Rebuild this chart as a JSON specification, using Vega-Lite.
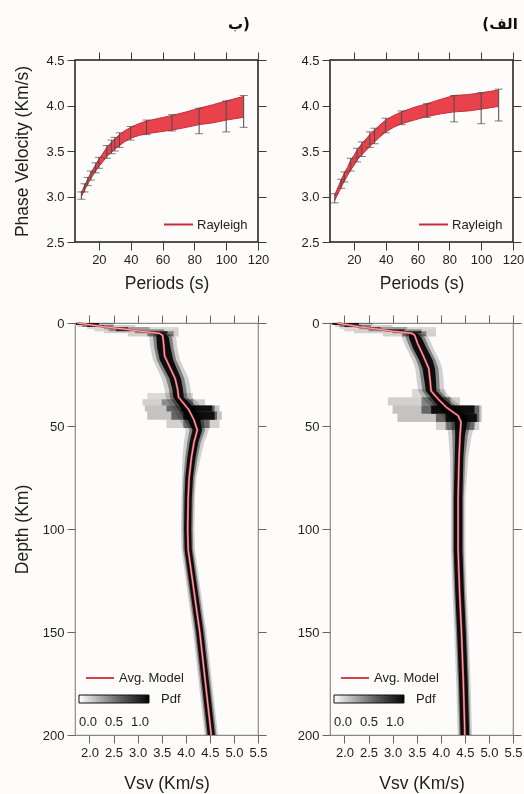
{
"$schema": "https://vega.github.io/schema/vega-lite/v6.json",
"background": "#fdfcfa",
"padding": {"left": 12, "top": 15, "right": 5, "bottom": 5},
"config": {
 "font": "Liberation Sans",
 "axis": {"domain": false, "grid": false, "tickSize": 8, "tickColor": "#3a3a3a", "tickWidth": 1, "labelFont": "Liberation Sans", "labelFontSize": 13, "labelColor": "#1e1e1e", "labelPadding": 3, "titleFont": "Liberation Sans", "titleFontSize": 17.5, "titleFontWeight": "normal", "titleColor": "#1e1e1e", "labelFlush": false, "labelOverlap": false},
 "legend": {"labelFont": "Liberation Sans", "labelFontSize": 13, "labelColor": "#1e1e1e", "titleFont": "Liberation Sans", "titleFontSize": 13, "titleFontWeight": "normal", "titleColor": "#1e1e1e"}
},
"datasets": {
 "bandB": [
  {"T":9,"lo":3.00,"hi":3.04},{"T":11,"lo":3.07,"hi":3.12},{"T":13,"lo":3.14,"hi":3.19},{"T":15,"lo":3.20,"hi":3.26},
  {"T":18,"lo":3.28,"hi":3.35},{"T":20,"lo":3.33,"hi":3.41},{"T":22,"lo":3.37,"hi":3.46},{"T":25,"lo":3.44,"hi":3.54},
  {"T":28,"lo":3.49,"hi":3.60},{"T":30,"lo":3.52,"hi":3.63},{"T":33,"lo":3.56,"hi":3.68},{"T":36,"lo":3.60,"hi":3.72},
  {"T":40,"lo":3.64,"hi":3.76},{"T":45,"lo":3.67,"hi":3.80},{"T":50,"lo":3.69,"hi":3.83},{"T":58,"lo":3.71,"hi":3.86},
  {"T":66,"lo":3.73,"hi":3.89},{"T":75,"lo":3.76,"hi":3.93},{"T":83,"lo":3.79,"hi":3.97},{"T":92,"lo":3.81,"hi":4.01},
  {"T":100,"lo":3.84,"hi":4.05},{"T":111,"lo":3.87,"hi":4.10}
 ],
 "errB": [
  {"T":9,"elo":2.97,"ehi":3.05},{"T":11,"elo":3.05,"ehi":3.14},{"T":13,"elo":3.12,"ehi":3.21},{"T":15,"elo":3.18,"ehi":3.28},
  {"T":18,"elo":3.26,"ehi":3.37},{"T":20,"elo":3.31,"ehi":3.43},{"T":25,"elo":3.42,"ehi":3.56},{"T":28,"elo":3.47,"ehi":3.62},
  {"T":30,"elo":3.50,"ehi":3.65},{"T":33,"elo":3.54,"ehi":3.70},{"T":40,"elo":3.62,"ehi":3.77},{"T":50,"elo":3.68,"ehi":3.84},
  {"T":66,"elo":3.72,"ehi":3.90},{"T":83,"elo":3.69,"ehi":3.97},{"T":100,"elo":3.71,"ehi":4.05},{"T":111,"elo":3.76,"ehi":4.11}
 ],
 "bandA": [
  {"T":8,"lo":2.96,"hi":3.02},{"T":10,"lo":3.03,"hi":3.10},{"T":12,"lo":3.10,"hi":3.18},{"T":14,"lo":3.17,"hi":3.26},
  {"T":16,"lo":3.23,"hi":3.32},{"T":18,"lo":3.29,"hi":3.40},{"T":20,"lo":3.34,"hi":3.45},{"T":22,"lo":3.40,"hi":3.51},
  {"T":25,"lo":3.46,"hi":3.58},{"T":28,"lo":3.51,"hi":3.64},{"T":30,"lo":3.55,"hi":3.68},{"T":33,"lo":3.60,"hi":3.73},
  {"T":36,"lo":3.65,"hi":3.78},{"T":40,"lo":3.71,"hi":3.84},{"T":45,"lo":3.76,"hi":3.89},{"T":50,"lo":3.80,"hi":3.93},
  {"T":58,"lo":3.84,"hi":3.98},{"T":66,"lo":3.88,"hi":4.02},{"T":75,"lo":3.91,"hi":4.07},{"T":83,"lo":3.93,"hi":4.11},
  {"T":92,"lo":3.94,"hi":4.12},{"T":100,"lo":3.96,"hi":4.14},{"T":111,"lo":3.99,"hi":4.17}
 ],
 "errA": [
  {"T":8,"elo":2.93,"ehi":3.03},{"T":12,"elo":3.09,"ehi":3.19},{"T":14,"elo":3.16,"ehi":3.27},{"T":18,"elo":3.28,"ehi":3.42},
  {"T":22,"elo":3.38,"ehi":3.53},{"T":25,"elo":3.44,"ehi":3.60},{"T":30,"elo":3.54,"ehi":3.71},{"T":33,"elo":3.58,"ehi":3.75},
  {"T":40,"elo":3.70,"ehi":3.86},{"T":50,"elo":3.79,"ehi":3.94},{"T":66,"elo":3.87,"ehi":4.02},{"T":83,"elo":3.82,"ehi":4.11},
  {"T":100,"elo":3.80,"ehi":4.14},{"T":111,"elo":3.83,"ehi":4.18}
 ],
 "modelB": [
  {"d":0,"v":1.75},{"d":1,"v":2.05},{"d":2,"v":2.35},{"d":3,"v":2.75},{"d":4,"v":3.05},{"d":5,"v":3.45},{"d":6,"v":3.52},
  {"d":10,"v":3.54},{"d":16,"v":3.56},{"d":21,"v":3.66},{"d":27,"v":3.78},{"d":32,"v":3.83},{"d":36,"v":3.85},{"d":38,"v":3.92},
  {"d":42,"v":4.06},{"d":47,"v":4.17},{"d":52,"v":4.24},{"d":58,"v":4.17},{"d":65,"v":4.12},{"d":75,"v":4.07},{"d":85,"v":4.05},
  {"d":100,"v":4.04},{"d":110,"v":4.05},{"d":130,"v":4.17},{"d":150,"v":4.29},{"d":175,"v":4.41},{"d":200,"v":4.53}
 ],
 "modelA": [
  {"d":0,"v":1.85},{"d":1,"v":2.1},{"d":2,"v":2.35},{"d":3,"v":2.7},{"d":4,"v":3.0},{"d":5,"v":3.4},{"d":6,"v":3.46},
  {"d":10,"v":3.52},{"d":15,"v":3.62},{"d":22,"v":3.75},{"d":28,"v":3.78},{"d":33,"v":3.80},{"d":37,"v":3.95},{"d":41,"v":4.12},
  {"d":45,"v":4.36},{"d":48,"v":4.42},{"d":55,"v":4.40},{"d":65,"v":4.38},{"d":85,"v":4.36},{"d":110,"v":4.36},{"d":130,"v":4.39},
  {"d":150,"v":4.43},{"d":175,"v":4.47},{"d":200,"v":4.5}
 ],
 "scatB": [
  {"d1":0,"d2":1,"lo":1.72,"hi":2.5,"p":0.2},{"d1":0,"d2":1,"lo":1.72,"hi":2.2,"p":0.8},
  {"d1":1,"d2":2,"lo":1.75,"hi":2.95,"p":0.15},{"d1":1,"d2":2,"lo":1.85,"hi":2.5,"p":0.35},{"d1":1,"d2":2,"lo":1.95,"hi":2.3,"p":0.7},
  {"d1":2,"d2":3,"lo":1.95,"hi":3.85,"p":0.12},{"d1":2,"d2":3,"lo":2.3,"hi":3.25,"p":0.25},{"d1":2,"d2":3,"lo":2.45,"hi":2.8,"p":0.6},
  {"d1":3,"d2":4,"lo":2.1,"hi":3.85,"p":0.15},{"d1":3,"d2":4,"lo":2.4,"hi":3.55,"p":0.3},{"d1":3,"d2":4,"lo":2.55,"hi":2.85,"p":0.7},
  {"d1":4,"d2":5,"lo":2.3,"hi":3.85,"p":0.15},{"d1":4,"d2":5,"lo":2.95,"hi":3.75,"p":0.35},{"d1":4,"d2":5,"lo":3.25,"hi":3.62,"p":0.8},
  {"d1":5,"d2":6.5,"lo":2.8,"hi":3.85,"p":0.15},{"d1":5,"d2":6.5,"lo":3.2,"hi":3.75,"p":0.4},
  {"d1":34,"d2":37,"lo":3.2,"hi":4.15,"p":0.12},
  {"d1":37,"d2":40,"lo":3.1,"hi":4.4,"p":0.15},{"d1":37,"d2":40,"lo":3.5,"hi":4.15,"p":0.3},
  {"d1":40,"d2":43,"lo":3.15,"hi":4.7,"p":0.2},{"d1":40,"d2":43,"lo":3.6,"hi":4.6,"p":0.45},{"d1":40,"d2":43,"lo":3.9,"hi":4.55,"p":0.85},
  {"d1":43,"d2":47,"lo":3.2,"hi":4.75,"p":0.2},{"d1":43,"d2":47,"lo":3.7,"hi":4.65,"p":0.45},{"d1":43,"d2":47,"lo":3.95,"hi":4.6,"p":0.85},
  {"d1":47,"d2":51,"lo":3.6,"hi":4.7,"p":0.15},{"d1":47,"d2":51,"lo":3.95,"hi":4.5,"p":0.35}
 ],
 "scatA": [
  {"d1":0,"d2":1,"lo":1.72,"hi":2.6,"p":0.2},{"d1":0,"d2":1,"lo":1.75,"hi":2.3,"p":0.8},
  {"d1":1,"d2":2,"lo":1.8,"hi":3.0,"p":0.15},{"d1":1,"d2":2,"lo":1.9,"hi":2.55,"p":0.35},{"d1":1,"d2":2,"lo":2.0,"hi":2.35,"p":0.7},
  {"d1":2,"d2":3,"lo":1.9,"hi":3.9,"p":0.12},{"d1":2,"d2":3,"lo":2.3,"hi":3.3,"p":0.25},{"d1":2,"d2":3,"lo":2.45,"hi":2.75,"p":0.6},
  {"d1":3,"d2":4,"lo":2.0,"hi":3.9,"p":0.15},{"d1":3,"d2":4,"lo":2.5,"hi":3.6,"p":0.3},{"d1":3,"d2":4,"lo":2.85,"hi":3.25,"p":0.7},
  {"d1":4,"d2":5,"lo":2.2,"hi":3.9,"p":0.15},{"d1":4,"d2":5,"lo":3.0,"hi":3.7,"p":0.35},{"d1":4,"d2":5,"lo":3.25,"hi":3.6,"p":0.8},
  {"d1":5,"d2":6.5,"lo":2.8,"hi":3.9,"p":0.15},{"d1":5,"d2":6.5,"lo":3.2,"hi":3.7,"p":0.4},
  {"d1":32,"d2":36,"lo":3.4,"hi":4.1,"p":0.12},
  {"d1":36,"d2":40,"lo":2.9,"hi":4.4,"p":0.15},{"d1":36,"d2":40,"lo":3.6,"hi":4.2,"p":0.35},
  {"d1":40,"d2":44,"lo":3.0,"hi":4.85,"p":0.2},{"d1":40,"d2":44,"lo":3.6,"hi":4.8,"p":0.45},{"d1":40,"d2":44,"lo":3.8,"hi":4.7,"p":0.85},
  {"d1":44,"d2":48,"lo":3.1,"hi":4.85,"p":0.2},{"d1":44,"d2":48,"lo":3.9,"hi":4.8,"p":0.45},{"d1":44,"d2":48,"lo":4.1,"hi":4.75,"p":0.85},
  {"d1":48,"d2":52,"lo":3.9,"hi":4.8,"p":0.15},{"d1":48,"d2":52,"lo":4.1,"hi":4.7,"p":0.35}
 ],
 "coreB": [
  {"d":5,"lo":3.28,"hi":3.68,"p":0.15},{"d":7,"lo":3.24,"hi":3.80,"p":0.15},{"d":12,"lo":3.265,"hi":3.825,"p":0.15},{"d":18,"lo":3.32,"hi":3.88,"p":0.15},
  {"d":22,"lo":3.40,"hi":3.96,"p":0.15},{"d":27,"lo":3.50,"hi":4.06,"p":0.15},{"d":32,"lo":3.56,"hi":4.10,"p":0.15},{"d":36,"lo":3.58,"hi":4.12,"p":0.15},
  {"d":38,"lo":3.62,"hi":4.22,"p":0.15},{"d":42,"lo":3.74,"hi":4.38,"p":0.15},{"d":47,"lo":3.87,"hi":4.47,"p":0.15},{"d":52,"lo":4.00,"hi":4.48,"p":0.15},
  {"d":58,"lo":3.96,"hi":4.38,"p":0.15},{"d":65,"lo":3.93,"hi":4.31,"p":0.15},{"d":75,"lo":3.92,"hi":4.22,"p":0.15},{"d":85,"lo":3.91,"hi":4.19,"p":0.15},
  {"d":100,"lo":3.90,"hi":4.18,"p":0.15},{"d":110,"lo":3.91,"hi":4.19,"p":0.15},{"d":130,"lo":4.03,"hi":4.31,"p":0.15},{"d":150,"lo":4.15,"hi":4.43,"p":0.15},
  {"d":175,"lo":4.27,"hi":4.55,"p":0.15},{"d":200,"lo":4.39,"hi":4.67,"p":0.15},
  {"d":5,"lo":3.35,"hi":3.61,"p":0.35},{"d":7,"lo":3.32,"hi":3.72,"p":0.35},{"d":12,"lo":3.345,"hi":3.745,"p":0.35},{"d":18,"lo":3.40,"hi":3.80,"p":0.35},
  {"d":22,"lo":3.48,"hi":3.88,"p":0.35},{"d":27,"lo":3.59,"hi":3.97,"p":0.35},{"d":32,"lo":3.65,"hi":4.01,"p":0.35},{"d":36,"lo":3.67,"hi":4.03,"p":0.35},
  {"d":38,"lo":3.72,"hi":4.12,"p":0.35},{"d":42,"lo":3.84,"hi":4.28,"p":0.35},{"d":47,"lo":3.97,"hi":4.37,"p":0.35},{"d":52,"lo":4.08,"hi":4.40,"p":0.35},
  {"d":58,"lo":4.03,"hi":4.31,"p":0.35},{"d":65,"lo":3.99,"hi":4.25,"p":0.35},{"d":75,"lo":3.955,"hi":4.185,"p":0.35},{"d":85,"lo":3.94,"hi":4.16,"p":0.35},
  {"d":100,"lo":3.935,"hi":4.145,"p":0.35},{"d":110,"lo":3.945,"hi":4.155,"p":0.35},{"d":130,"lo":4.065,"hi":4.275,"p":0.35},{"d":150,"lo":4.185,"hi":4.395,"p":0.35},
  {"d":175,"lo":4.305,"hi":4.515,"p":0.35},{"d":200,"lo":4.425,"hi":4.635,"p":0.35},
  {"d":5,"lo":3.40,"hi":3.56,"p":0.92},{"d":7,"lo":3.39,"hi":3.65,"p":0.92},{"d":12,"lo":3.405,"hi":3.685,"p":0.92},{"d":18,"lo":3.46,"hi":3.74,"p":0.92},
  {"d":22,"lo":3.55,"hi":3.81,"p":0.92},{"d":27,"lo":3.66,"hi":3.90,"p":0.92},{"d":32,"lo":3.72,"hi":3.94,"p":0.92},{"d":36,"lo":3.74,"hi":3.96,"p":0.92},
  {"d":38,"lo":3.80,"hi":4.04,"p":0.92},{"d":42,"lo":3.92,"hi":4.20,"p":0.92},{"d":47,"lo":4.04,"hi":4.30,"p":0.92},{"d":52,"lo":4.14,"hi":4.34,"p":0.92},
  {"d":58,"lo":4.08,"hi":4.26,"p":0.92},{"d":65,"lo":4.035,"hi":4.205,"p":0.92},{"d":75,"lo":3.99,"hi":4.15,"p":0.92},{"d":85,"lo":3.975,"hi":4.125,"p":0.92},
  {"d":100,"lo":3.965,"hi":4.115,"p":0.92},{"d":110,"lo":3.975,"hi":4.125,"p":0.92},{"d":130,"lo":4.095,"hi":4.245,"p":0.92},{"d":150,"lo":4.215,"hi":4.365,"p":0.92},
  {"d":175,"lo":4.335,"hi":4.485,"p":0.92},{"d":200,"lo":4.455,"hi":4.605,"p":0.92}
 ],
 "coreA": [
  {"d":5,"lo":3.22,"hi":3.62,"p":0.15},{"d":7,"lo":3.19,"hi":3.75,"p":0.15},{"d":12,"lo":3.28,"hi":3.84,"p":0.15},{"d":18,"lo":3.41,"hi":3.97,"p":0.15},
  {"d":22,"lo":3.47,"hi":4.03,"p":0.15},{"d":28,"lo":3.50,"hi":4.06,"p":0.15},{"d":33,"lo":3.53,"hi":4.07,"p":0.15},{"d":37,"lo":3.65,"hi":4.25,"p":0.15},
  {"d":41,"lo":3.79,"hi":4.45,"p":0.15},{"d":45,"lo":4.03,"hi":4.69,"p":0.15},{"d":48,"lo":4.12,"hi":4.72,"p":0.15},{"d":55,"lo":4.16,"hi":4.64,"p":0.15},
  {"d":65,"lo":4.19,"hi":4.57,"p":0.15},{"d":85,"lo":4.21,"hi":4.51,"p":0.15},{"d":110,"lo":4.21,"hi":4.51,"p":0.15},{"d":130,"lo":4.24,"hi":4.54,"p":0.15},
  {"d":150,"lo":4.28,"hi":4.58,"p":0.15},{"d":175,"lo":4.32,"hi":4.62,"p":0.15},{"d":200,"lo":4.35,"hi":4.65,"p":0.15},
  {"d":5,"lo":3.29,"hi":3.55,"p":0.35},{"d":7,"lo":3.27,"hi":3.67,"p":0.35},{"d":12,"lo":3.36,"hi":3.76,"p":0.35},{"d":18,"lo":3.49,"hi":3.89,"p":0.35},
  {"d":22,"lo":3.55,"hi":3.95,"p":0.35},{"d":28,"lo":3.59,"hi":3.97,"p":0.35},{"d":33,"lo":3.62,"hi":3.98,"p":0.35},{"d":37,"lo":3.75,"hi":4.15,"p":0.35},
  {"d":41,"lo":3.89,"hi":4.35,"p":0.35},{"d":45,"lo":4.13,"hi":4.59,"p":0.35},{"d":48,"lo":4.22,"hi":4.62,"p":0.35},{"d":55,"lo":4.24,"hi":4.56,"p":0.35},
  {"d":65,"lo":4.25,"hi":4.51,"p":0.35},{"d":85,"lo":4.245,"hi":4.475,"p":0.35},{"d":110,"lo":4.245,"hi":4.475,"p":0.35},{"d":130,"lo":4.275,"hi":4.505,"p":0.35},
  {"d":150,"lo":4.315,"hi":4.545,"p":0.35},{"d":175,"lo":4.355,"hi":4.585,"p":0.35},{"d":200,"lo":4.385,"hi":4.615,"p":0.35},
  {"d":5,"lo":3.34,"hi":3.50,"p":0.92},{"d":7,"lo":3.34,"hi":3.60,"p":0.92},{"d":12,"lo":3.42,"hi":3.70,"p":0.92},{"d":18,"lo":3.55,"hi":3.83,"p":0.92},
  {"d":22,"lo":3.62,"hi":3.88,"p":0.92},{"d":28,"lo":3.66,"hi":3.90,"p":0.92},{"d":33,"lo":3.69,"hi":3.91,"p":0.92},{"d":37,"lo":3.83,"hi":4.07,"p":0.92},
  {"d":41,"lo":3.97,"hi":4.27,"p":0.92},{"d":45,"lo":4.21,"hi":4.51,"p":0.92},{"d":48,"lo":4.29,"hi":4.55,"p":0.92},{"d":55,"lo":4.30,"hi":4.50,"p":0.92},
  {"d":65,"lo":4.29,"hi":4.47,"p":0.92},{"d":85,"lo":4.27,"hi":4.45,"p":0.92},{"d":110,"lo":4.27,"hi":4.45,"p":0.92},{"d":130,"lo":4.30,"hi":4.48,"p":0.92},
  {"d":150,"lo":4.34,"hi":4.52,"p":0.92},{"d":175,"lo":4.38,"hi":4.56,"p":0.92},{"d":200,"lo":4.41,"hi":4.59,"p":0.92}
 ]
},
"columns": 2,
"align": "each",
"bounds": "flush",
"spacing": {"row": 81, "column": 72},
"resolve": {"scale": {"color": "independent", "stroke": "independent"}, "legend": {"color": "independent", "stroke": "independent"}},
"concat": [
 {
  "width": 183, "height": 182,
  "view": {"stroke": "#1a1a1a", "strokeWidth": 1.5},
  "title": {"text": "ب)", "anchor": "end", "font": "DejaVu Sans", "fontSize": 15, "fontWeight": "bold", "color": "#111", "dx": -19, "offset": 20},
  "resolve": {"axis": {"x": "independent", "y": "independent"}},
  "layer": [
   {"data": {"name": "bandB"}, "mark": {"type": "area", "color": "#e8434d", "opacity": 1},
    "encoding": {
     "x": {"field": "T", "type": "quantitative", "scale": {"domain": [5, 120], "nice": false, "zero": false}, "axis": {"orient": "bottom", "values": [20, 40, 60, 80, 100, 120], "title": "Periods (s)", "titlePadding": 8}},
     "y": {"field": "lo", "type": "quantitative", "scale": {"domain": [2.5, 4.5], "nice": false, "zero": false}, "axis": {"orient": "left", "values": [2.5, 3, 3.5, 4, 4.5], "format": ".1f", "title": "Phase Velocity (Km/s)", "minExtent": 34, "maxExtent": 34, "titlePadding": 10}},
     "y2": {"field": "hi"}}},
   {"data": {"name": "bandB"}, "mark": {"type": "line", "strokeWidth": 1},
    "encoding": {
     "x": {"field": "T", "type": "quantitative", "axis": null},
     "y": {"field": "hi", "type": "quantitative", "axis": null},
     "stroke": {"datum": "Rayleigh", "scale": {"range": ["#c82c37"]}, "legend": {"title": null, "orient": "bottom-right", "offset": 10, "padding": 0, "symbolType": "stroke", "symbolSize": 841, "symbolStrokeWidth": 2, "labelOffset": 3}}}},
   {"data": {"name": "bandB"}, "mark": {"type": "line", "strokeWidth": 1},
    "encoding": {
     "x": {"field": "T", "type": "quantitative", "axis": null},
     "y": {"field": "lo", "type": "quantitative", "axis": null},
     "stroke": {"datum": "Rayleigh", "scale": {"range": ["#c82c37"]}, "legend": {"title": null, "orient": "bottom-right", "offset": 10, "padding": 0, "symbolType": "stroke", "symbolSize": 841, "symbolStrokeWidth": 2, "labelOffset": 3}}}},
   {"data": {"name": "errB"}, "mark": {"type": "rule", "color": "#4a4a4a", "strokeWidth": 1},
    "encoding": {"x": {"field": "T", "type": "quantitative", "axis": null}, "y": {"field": "elo", "type": "quantitative", "axis": null}, "y2": {"field": "ehi"}}},
   {"data": {"name": "errB"}, "mark": {"type": "tick", "orient": "horizontal", "size": 8, "thickness": 1, "color": "#4a4a4a"},
    "encoding": {"x": {"field": "T", "type": "quantitative", "axis": null}, "y": {"field": "elo", "type": "quantitative", "axis": null}}},
   {"data": {"name": "errB"}, "mark": {"type": "tick", "orient": "horizontal", "size": 8, "thickness": 1, "color": "#4a4a4a"},
    "encoding": {"x": {"field": "T", "type": "quantitative", "axis": null}, "y": {"field": "ehi", "type": "quantitative", "axis": null}}},
   {"data": {"name": "errB"}, "mark": {"type": "point", "opacity": 0},
    "encoding": {
     "x": {"field": "T", "type": "quantitative", "axis": {"orient": "top", "values": [20, 40, 60, 80, 100, 120], "labels": false, "title": null}},
     "y": {"field": "elo", "type": "quantitative", "axis": {"orient": "right", "values": [2.5, 3, 3.5, 4, 4.5], "labels": false, "title": null, "minExtent": 0}}}}
  ]
 },
 {
  "width": 183, "height": 182,
  "view": {"stroke": "#1a1a1a", "strokeWidth": 1.5},
  "title": {"text": "(الف", "anchor": "end", "font": "DejaVu Sans", "fontSize": 15, "fontWeight": "bold", "color": "#111", "dx": -6, "offset": 20},
  "resolve": {"axis": {"x": "independent", "y": "independent"}},
  "layer": [
   {"data": {"name": "bandA"}, "mark": {"type": "area", "color": "#e8434d", "opacity": 1},
    "encoding": {
     "x": {"field": "T", "type": "quantitative", "scale": {"domain": [5, 120], "nice": false, "zero": false}, "axis": {"orient": "bottom", "values": [20, 40, 60, 80, 100, 120], "title": "Periods (s)", "titlePadding": 8}},
     "y": {"field": "lo", "type": "quantitative", "scale": {"domain": [2.5, 4.5], "nice": false, "zero": false}, "axis": {"orient": "left", "values": [2.5, 3, 3.5, 4, 4.5], "format": ".1f", "title": null, "minExtent": 34, "maxExtent": 34}},
     "y2": {"field": "hi"}}},
   {"data": {"name": "bandA"}, "mark": {"type": "line", "strokeWidth": 1},
    "encoding": {
     "x": {"field": "T", "type": "quantitative", "axis": null},
     "y": {"field": "hi", "type": "quantitative", "axis": null},
     "stroke": {"datum": "Rayleigh", "scale": {"range": ["#c82c37"]}, "legend": {"title": null, "orient": "bottom-right", "offset": 10, "padding": 0, "symbolType": "stroke", "symbolSize": 841, "symbolStrokeWidth": 2, "labelOffset": 3}}}},
   {"data": {"name": "bandA"}, "mark": {"type": "line", "strokeWidth": 1},
    "encoding": {
     "x": {"field": "T", "type": "quantitative", "axis": null},
     "y": {"field": "lo", "type": "quantitative", "axis": null},
     "stroke": {"datum": "Rayleigh", "scale": {"range": ["#c82c37"]}, "legend": {"title": null, "orient": "bottom-right", "offset": 10, "padding": 0, "symbolType": "stroke", "symbolSize": 841, "symbolStrokeWidth": 2, "labelOffset": 3}}}},
   {"data": {"name": "errA"}, "mark": {"type": "rule", "color": "#4a4a4a", "strokeWidth": 1},
    "encoding": {"x": {"field": "T", "type": "quantitative", "axis": null}, "y": {"field": "elo", "type": "quantitative", "axis": null}, "y2": {"field": "ehi"}}},
   {"data": {"name": "errA"}, "mark": {"type": "tick", "orient": "horizontal", "size": 8, "thickness": 1, "color": "#4a4a4a"},
    "encoding": {"x": {"field": "T", "type": "quantitative", "axis": null}, "y": {"field": "elo", "type": "quantitative", "axis": null}}},
   {"data": {"name": "errA"}, "mark": {"type": "tick", "orient": "horizontal", "size": 8, "thickness": 1, "color": "#4a4a4a"},
    "encoding": {"x": {"field": "T", "type": "quantitative", "axis": null}, "y": {"field": "ehi", "type": "quantitative", "axis": null}}},
   {"data": {"name": "errA"}, "mark": {"type": "point", "opacity": 0},
    "encoding": {
     "x": {"field": "T", "type": "quantitative", "axis": {"orient": "top", "values": [20, 40, 60, 80, 100, 120], "labels": false, "title": null}},
     "y": {"field": "elo", "type": "quantitative", "axis": {"orient": "right", "values": [2.5, 3, 3.5, 4, 4.5], "labels": false, "title": null, "minExtent": 0}}}}
  ]
 },
 {
  "width": 183, "height": 412,
  "view": {"stroke": "#8a8a8a", "strokeWidth": 1.2},
  "resolve": {"axis": {"x": "independent", "y": "independent"}},
  "layer": [
   {"data": {"name": "scatB"}, "mark": {"type": "rect", "blend": "multiply"},
    "encoding": {
     "x": {"field": "lo", "type": "quantitative", "scale": {"domain": [1.7, 5.5], "nice": false, "zero": false}, "axis": {"orient": "bottom", "values": [2, 2.5, 3, 3.5, 4, 4.5, 5, 5.5], "format": ".1f", "title": "Vsv (Km/s)", "titlePadding": 15, "tickColor": "#666"}},
     "x2": {"field": "hi"},
     "y": {"field": "d1", "type": "quantitative", "scale": {"domain": [0, 200], "reverse": true, "nice": false, "zero": false}, "axis": {"orient": "left", "values": [0, 50, 100, 150, 200], "title": "Depth (Km)", "minExtent": 34, "maxExtent": 34, "titlePadding": 10, "tickColor": "#666"}},
     "y2": {"field": "d2"},
     "color": {"field": "p", "type": "quantitative", "scale": {"domain": [0, 1], "range": ["#ffffff", "#000000"]}, "legend": {"title": "Pdf", "orient": "none", "legendX": 4, "legendY": 372, "direction": "horizontal", "titleOrient": "right", "gradientLength": 70, "gradientThickness": 8, "values": [0, 0.5, 1], "format": ".1f", "gradientStrokeColor": "#111", "gradientStrokeWidth": 1, "labelOverlap": false, "padding": 0, "titlePadding": 11, "labelOffset": 13}}}},
   {"data": {"name": "coreB"}, "mark": {"type": "area", "orient": "horizontal", "blend": "multiply"},
    "encoding": {
     "y": {"field": "d", "type": "quantitative", "axis": null},
     "x": {"field": "lo", "type": "quantitative", "axis": null},
     "x2": {"field": "hi"},
     "detail": {"field": "p", "type": "nominal"},
     "color": {"field": "p", "type": "quantitative"}}},
   {"data": {"name": "modelB"}, "mark": {"type": "line", "strokeWidth": 2.2},
    "encoding": {
     "x": {"field": "v", "type": "quantitative", "axis": null},
     "y": {"field": "d", "type": "quantitative", "axis": null},
     "order": {"field": "d", "type": "quantitative"},
     "stroke": {"datum": "Avg. Model", "scale": {"range": ["#d8404a"]}, "legend": {"title": null, "orient": "none", "legendX": 10, "legendY": 340, "padding": 0, "symbolType": "stroke", "symbolSize": 784, "symbolStrokeWidth": 2, "labelOffset": 4}}}},
   {"data": {"name": "modelB"}, "mark": {"type": "line", "color": "#ffffff", "strokeWidth": 0.7, "opacity": 0.85},
    "encoding": {
     "x": {"field": "v", "type": "quantitative", "axis": null},
     "y": {"field": "d", "type": "quantitative", "axis": null},
     "order": {"field": "d", "type": "quantitative"}}},
   {"data": {"name": "modelB"}, "mark": {"type": "point", "opacity": 0},
    "encoding": {
     "x": {"field": "v", "type": "quantitative", "axis": {"orient": "top", "values": [2, 2.5, 3, 3.5, 4, 4.5, 5, 5.5], "labels": false, "title": null, "tickColor": "#666"}},
     "y": {"field": "d", "type": "quantitative", "axis": {"orient": "right", "values": [0, 50, 100, 150, 200], "labels": false, "title": null, "minExtent": 0, "tickColor": "#666"}}}}
  ]
 },
 {
  "width": 183, "height": 412,
  "view": {"stroke": "#8a8a8a", "strokeWidth": 1.2},
  "resolve": {"axis": {"x": "independent", "y": "independent"}},
  "layer": [
   {"data": {"name": "scatA"}, "mark": {"type": "rect", "blend": "multiply"},
    "encoding": {
     "x": {"field": "lo", "type": "quantitative", "scale": {"domain": [1.7, 5.5], "nice": false, "zero": false}, "axis": {"orient": "bottom", "values": [2, 2.5, 3, 3.5, 4, 4.5, 5, 5.5], "format": ".1f", "title": "Vsv (Km/s)", "titlePadding": 15, "tickColor": "#666"}},
     "x2": {"field": "hi"},
     "y": {"field": "d1", "type": "quantitative", "scale": {"domain": [0, 200], "reverse": true, "nice": false, "zero": false}, "axis": {"orient": "left", "values": [0, 50, 100, 150, 200], "title": null, "minExtent": 34, "maxExtent": 34, "tickColor": "#666"}},
     "y2": {"field": "d2"},
     "color": {"field": "p", "type": "quantitative", "scale": {"domain": [0, 1], "range": ["#ffffff", "#000000"]}, "legend": {"title": "Pdf", "orient": "none", "legendX": 4, "legendY": 372, "direction": "horizontal", "titleOrient": "right", "gradientLength": 70, "gradientThickness": 8, "values": [0, 0.5, 1], "format": ".1f", "gradientStrokeColor": "#111", "gradientStrokeWidth": 1, "labelOverlap": false, "padding": 0, "titlePadding": 11, "labelOffset": 13}}}},
   {"data": {"name": "coreA"}, "mark": {"type": "area", "orient": "horizontal", "blend": "multiply"},
    "encoding": {
     "y": {"field": "d", "type": "quantitative", "axis": null},
     "x": {"field": "lo", "type": "quantitative", "axis": null},
     "x2": {"field": "hi"},
     "detail": {"field": "p", "type": "nominal"},
     "color": {"field": "p", "type": "quantitative"}}},
   {"data": {"name": "modelA"}, "mark": {"type": "line", "strokeWidth": 2.2},
    "encoding": {
     "x": {"field": "v", "type": "quantitative", "axis": null},
     "y": {"field": "d", "type": "quantitative", "axis": null},
     "order": {"field": "d", "type": "quantitative"},
     "stroke": {"datum": "Avg. Model", "scale": {"range": ["#d8404a"]}, "legend": {"title": null, "orient": "none", "legendX": 10, "legendY": 340, "padding": 0, "symbolType": "stroke", "symbolSize": 784, "symbolStrokeWidth": 2, "labelOffset": 4}}}},
   {"data": {"name": "modelA"}, "mark": {"type": "line", "color": "#ffffff", "strokeWidth": 0.7, "opacity": 0.85},
    "encoding": {
     "x": {"field": "v", "type": "quantitative", "axis": null},
     "y": {"field": "d", "type": "quantitative", "axis": null},
     "order": {"field": "d", "type": "quantitative"}}},
   {"data": {"name": "modelA"}, "mark": {"type": "point", "opacity": 0},
    "encoding": {
     "x": {"field": "v", "type": "quantitative", "axis": {"orient": "top", "values": [2, 2.5, 3, 3.5, 4, 4.5, 5, 5.5], "labels": false, "title": null, "tickColor": "#666"}},
     "y": {"field": "d", "type": "quantitative", "axis": {"orient": "right", "values": [0, 50, 100, 150, 200], "labels": false, "title": null, "minExtent": 0, "tickColor": "#666"}}}}
  ]
 }
]
}
